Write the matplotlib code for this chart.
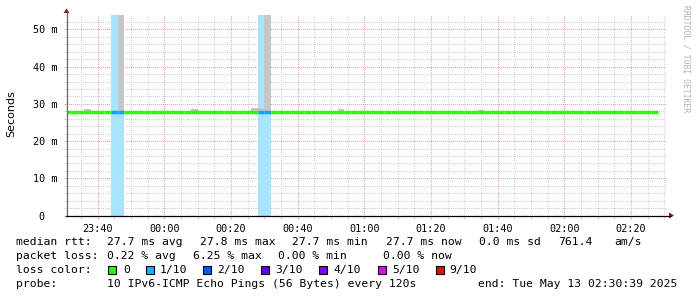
import matplotlib
matplotlib.use("Agg")
import matplotlib.pyplot as plt
from matplotlib.patches import Rectangle, Polygon
from matplotlib.lines import Line2D
import numpy as np

W, H = 697, 297

# ---- data (2-minute bins, minutes since 23:30) ----
bin_minutes = 2
n_bins = 89
median_ms = [27.7] * n_bins
for i in (8, 13, 14, 17, 30, 45, 46, 47, 48):
    median_ms[i] = 27.8
loss_count = [0] * n_bins          # lost pings out of 10
for i in (7, 8, 29, 30):
    loss_count[i] = 1
smoke_max_ms = [None] * n_bins
smoke_vals = {2: 28.2, 3: 28.5, 8: 60.0, 18: 28.2, 19: 28.5, 27: 28.2,
              28: 29.0, 29: 29.0, 30: 60.0, 41: 28.5, 62: 28.3}
for k, v in smoke_vals.items():
    smoke_max_ms[k] = v

x_tick_minutes = [10, 30, 50, 70, 90, 110, 130, 150, 170]
x_tick_labels = ["23:40", "00:00", "00:20", "00:40", "01:00", "01:20", "01:40", "02:00", "02:20"]
y_ticks = [0, 10, 20, 30, 40, 50]
y_tick_labels = ["0  ", "10 m", "20 m", "30 m", "40 m", "50 m"]

loss_colors = {0: "#26ff00", 1: "#00b8ff", 2: "#0059ff", 3: "#5e00ff",
               4: "#7e00ff", 5: "#dd00ff", 9: "#ff0000"}
legend_labels = ["0", "1/10", "2/10", "3/10", "4/10", "5/10", "9/10"]
legend_keys = [0, 1, 2, 3, 4, 5, 9]

t0, t1 = 0.65, 180.65
ymax = 54

fig = plt.figure(figsize=(W / 100, H / 100), dpi=100, facecolor="white")
left_px, right_px, top_px, bot_px = 66.5, 666.5, 14.6, 215.5
ax = fig.add_axes([left_px / W, 1 - bot_px / H, (right_px - left_px) / W, (bot_px - top_px) / H])
ax.set_xlim(t0, t1)
ax.set_ylim(0, ymax)
ax.set_facecolor("white")
for s in ax.spines.values():
    s.set_visible(False)

mono = "DejaVu Sans Mono"

# grid (dotted, crisp)
minor_x = np.arange(5, 181, 5)
minor_y = np.arange(2, 54, 2)
gkw = dict(lw=0.72, ls=(0, (1, 2)), antialiased=False)
minor_col = "#d2d2d2"
major_col = "#e6aaaa"
for xv in minor_x:
    if xv in x_tick_minutes:
        continue
    ax.axvline(xv, color=minor_col, zorder=0, **gkw)
for yv in minor_y:
    if yv % 10 == 0:
        continue
    ax.axhline(yv, color=minor_col, zorder=0, **gkw)
for xv in x_tick_minutes:
    ax.axvline(xv, color=major_col, zorder=0.1, **gkw)
for yv in y_ticks[1:]:
    ax.axhline(yv, color=major_col, zorder=0.1, **gkw)

# loss background
for i, lc in enumerate(loss_count):
    if lc > 0:
        ax.axvspan(i * bin_minutes, (i + 1) * bin_minutes, color="#a8e4fd", lw=0, zorder=1)

# smoke
for i, sm in enumerate(smoke_max_ms):
    if sm is not None:
        ax.bar(i * bin_minutes, sm - 27.5, bottom=27.5, width=bin_minutes, align="edge",
               color="#c6c6c6", lw=0, zorder=2)

# median line
for i, m in enumerate(median_ms):
    col = "#26ff00"
    if loss_count[i] == 1:
        col = "#10a4ff"
    elif loss_count[i] in loss_colors:
        col = loss_colors[loss_count[i]]
    ax.hlines(m, i * bin_minutes, (i + 1) * bin_minutes, colors=col, lw=2.5, zorder=3)

# ticks
ax.set_xticks(x_tick_minutes)
ax.set_xticklabels(x_tick_labels, fontfamily=mono, fontsize=7.3)
ax.set_yticks(y_ticks)
ax.set_yticklabels(y_tick_labels, fontfamily=mono, fontsize=7.3)
ax.set_xticks(minor_x, minor=True)
ax.set_yticks(minor_y, minor=True)
ax.tick_params(axis="both", which="major", length=2, width=0.72, color=major_col, pad=4)
ax.tick_params(axis="both", which="minor", length=2, width=0.72, color=minor_col)
ax.tick_params(axis="y", which="major", pad=4.5)
ax.tick_params(axis="x", which="major", pad=4)

def fp(x, y):
    return (x / W, 1 - y / H)

# axes lines and arrows
fig.add_artist(Line2D([fp(66.5, 0)[0]] * 2, [fp(0, 215.5)[1], fp(0, 12)[1]],
                      transform=fig.transFigure, color="#666666", lw=0.9))
fig.add_artist(Line2D([fp(66, 0)[0], fp(670, 0)[0]], [fp(0, 215.5)[1]] * 2,
                      transform=fig.transFigure, color="black", lw=0.9))
fig.add_artist(Polygon([fp(63.5, 13), fp(69.5, 13), fp(66.5, 8.5)], closed=True,
                       transform=fig.transFigure, color="#8b1a1a", lw=0))
fig.add_artist(Polygon([fp(669, 212.5), fp(669, 218.5), fp(674, 215.5)], closed=True,
                       transform=fig.transFigure, color="#8b1a1a", lw=0))

# y label
fig.text(*fp(11, 114), "Seconds", rotation=90, ha="center", va="center",
         fontsize=8, fontfamily="DejaVu Sans")
# watermark
fig.text(*fp(686, 5), "RRDTOOL / TOBI OETIKER", rotation=270, ha="center", va="top",
         fontsize=5.8, fontfamily=mono, color="#b0b0b0")

# legend text
fs = 8.2
def t(x, y, s):
    fig.text(*fp(x, y), s, fontsize=fs, fontfamily=mono, ha="left", va="baseline")

t(16, 245, "median rtt:")
t(107, 245, "27.7 ms avg")
t(200, 245, "27.8 ms max")
t(292, 245, "27.7 ms min")
t(386, 245, "27.7 ms now")
t(479, 245, "0.0 ms sd")
t(558, 245, "761.4")
t(614, 245, "am/s")

t(16, 259, "packet loss:")
t(107, 259, "0.22 % avg")
t(193, 259, "6.25 % max")
t(278, 259, "0.00 % min")
t(383, 259, "0.00 % now")

t(16, 273, "loss color:")
sq_x = [108, 146, 203, 261, 319, 378, 436]
lb_x = [123, 160, 217, 275, 333, 392, 449]
for k, lab, sx, lx in zip(legend_keys, legend_labels, sq_x, lb_x):
    fig.add_artist(Rectangle(fp(sx, 273.5), 8 / W, 8 / H, transform=fig.transFigure,
                             facecolor=loss_colors[k], edgecolor="black", lw=0.8))
    t(lx, 273, lab)

t(16, 287, "probe:")
t(107, 287, "10 IPv6-ICMP Echo Pings (56 Bytes) every 120s")
t(478, 287, "end: Tue May 13 02:30:39 2025")

fig.savefig("out.png", dpi=100, facecolor="white")
